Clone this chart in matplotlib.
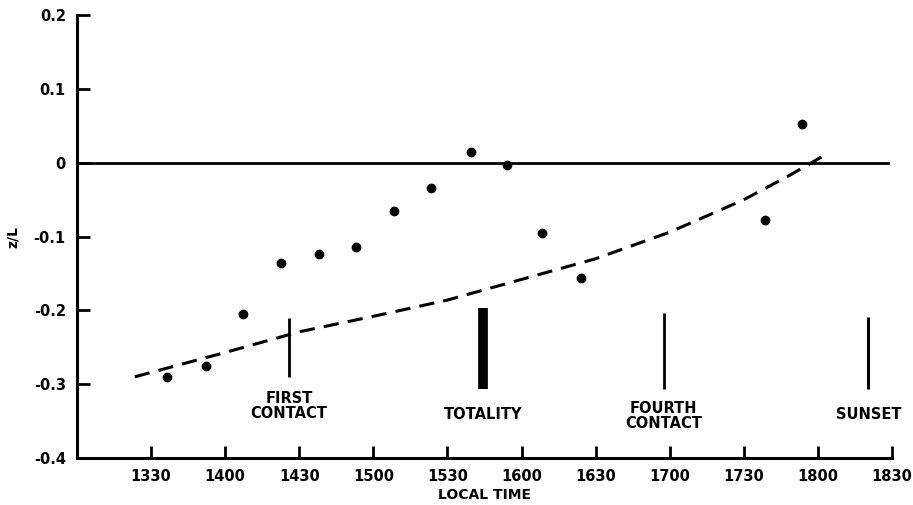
import numpy as np
import matplotlib
matplotlib.use("Agg")
import matplotlib.pyplot as plt

# local time in decimal hours, z/L
obs_time = [13.61, 13.87, 14.12, 14.38, 14.635, 14.885, 15.14, 15.39, 15.66, 15.90, 16.14, 16.40, 17.64, 17.89]
obs_zl = [-0.29, -0.275, -0.205, -0.136, -0.124, -0.114, -0.065, -0.034, 0.014, -0.003, -0.095, -0.156, -0.077, 0.053]

# dashed trend curve
fit_time = [13.39, 14.0, 14.5, 15.0, 15.5, 16.0, 16.5, 17.0, 17.5, 17.8, 18.06]
fit_zl = [-0.29, -0.257, -0.229, -0.208, -0.186, -0.158, -0.13, -0.094, -0.05, -0.018, 0.012]

# event markers: time, bar bottom, bar top, line width, label
event_time = [14.43, 15.74, 16.96, 18.34]
event_lo = [-0.29, -0.306, -0.306, -0.306]
event_hi = [-0.21, -0.197, -0.203, -0.209]
event_lw = [2.0, 7.0, 2.0, 2.2]
event_label = ["FIRST\nCONTACT", "TOTALITY", "FOURTH\nCONTACT", "SUNSET"]
event_label_y = [-0.33, -0.341, -0.343, -0.341]

xticks = [13.5, 14.0, 14.5, 15.0, 15.5, 16.0, 16.5, 17.0, 17.5, 18.0, 18.5]
xtick_labels = ["1330", "1400", "1430", "1500", "1530", "1600", "1630", "1700", "1730", "1800", "1830"]
yticks = [0.2, 0.1, 0.0, -0.1, -0.2, -0.3, -0.4]
ytick_labels = ["0.2", "0.1", "0", "-0.1", "-0.2", "-0.3", "-0.4"]

plt.rcParams["font.family"] = "DejaVu Sans"
plt.rcParams["font.weight"] = "bold"

fig = plt.figure(figsize=(9.13, 5.05), dpi=100)
ax = fig.add_axes([0.0843, 0.093, 0.8927, 0.877])

ax.set_xlim(13.0, 18.5)
ax.set_ylim(-0.4, 0.2)

# zero line
ax.plot([13.0, 18.47], [0, 0], color="black", lw=2.0)

ax.plot(fit_time, fit_zl, color="black", lw=2.2, ls=(0, (5, 3)))
ax.plot(obs_time, obs_zl, "o", color="black", ms=6)

for t, lo, hi, lw, lab, ly in zip(event_time, event_lo, event_hi, event_lw, event_label, event_label_y):
    ax.plot([t, t], [lo, hi], color="black", lw=lw, solid_capstyle="butt")
    ax.text(t, ly, lab, ha="center", va="center", fontsize=10.5, fontweight="bold", linespacing=1.0)

ax.set_xticks(xticks)
ax.set_xticklabels(xtick_labels)
ax.set_yticks(yticks)
ax.set_yticklabels(ytick_labels)
ax.tick_params(direction="in", length=9, width=2, labelsize=10.5, pad=8)
for lab in ax.get_xticklabels() + ax.get_yticklabels():
    lab.set_fontweight("bold")

ax.spines["top"].set_visible(False)
ax.spines["right"].set_visible(False)
ax.spines["left"].set_linewidth(2.2)
ax.spines["bottom"].set_linewidth(2.2)

ax.set_xlabel("LOCAL TIME", fontsize=10, fontweight="bold", labelpad=3)
ax.set_ylabel("z/L", fontsize=10, fontweight="bold", labelpad=10)

fig.savefig("out.png", dpi=100)
